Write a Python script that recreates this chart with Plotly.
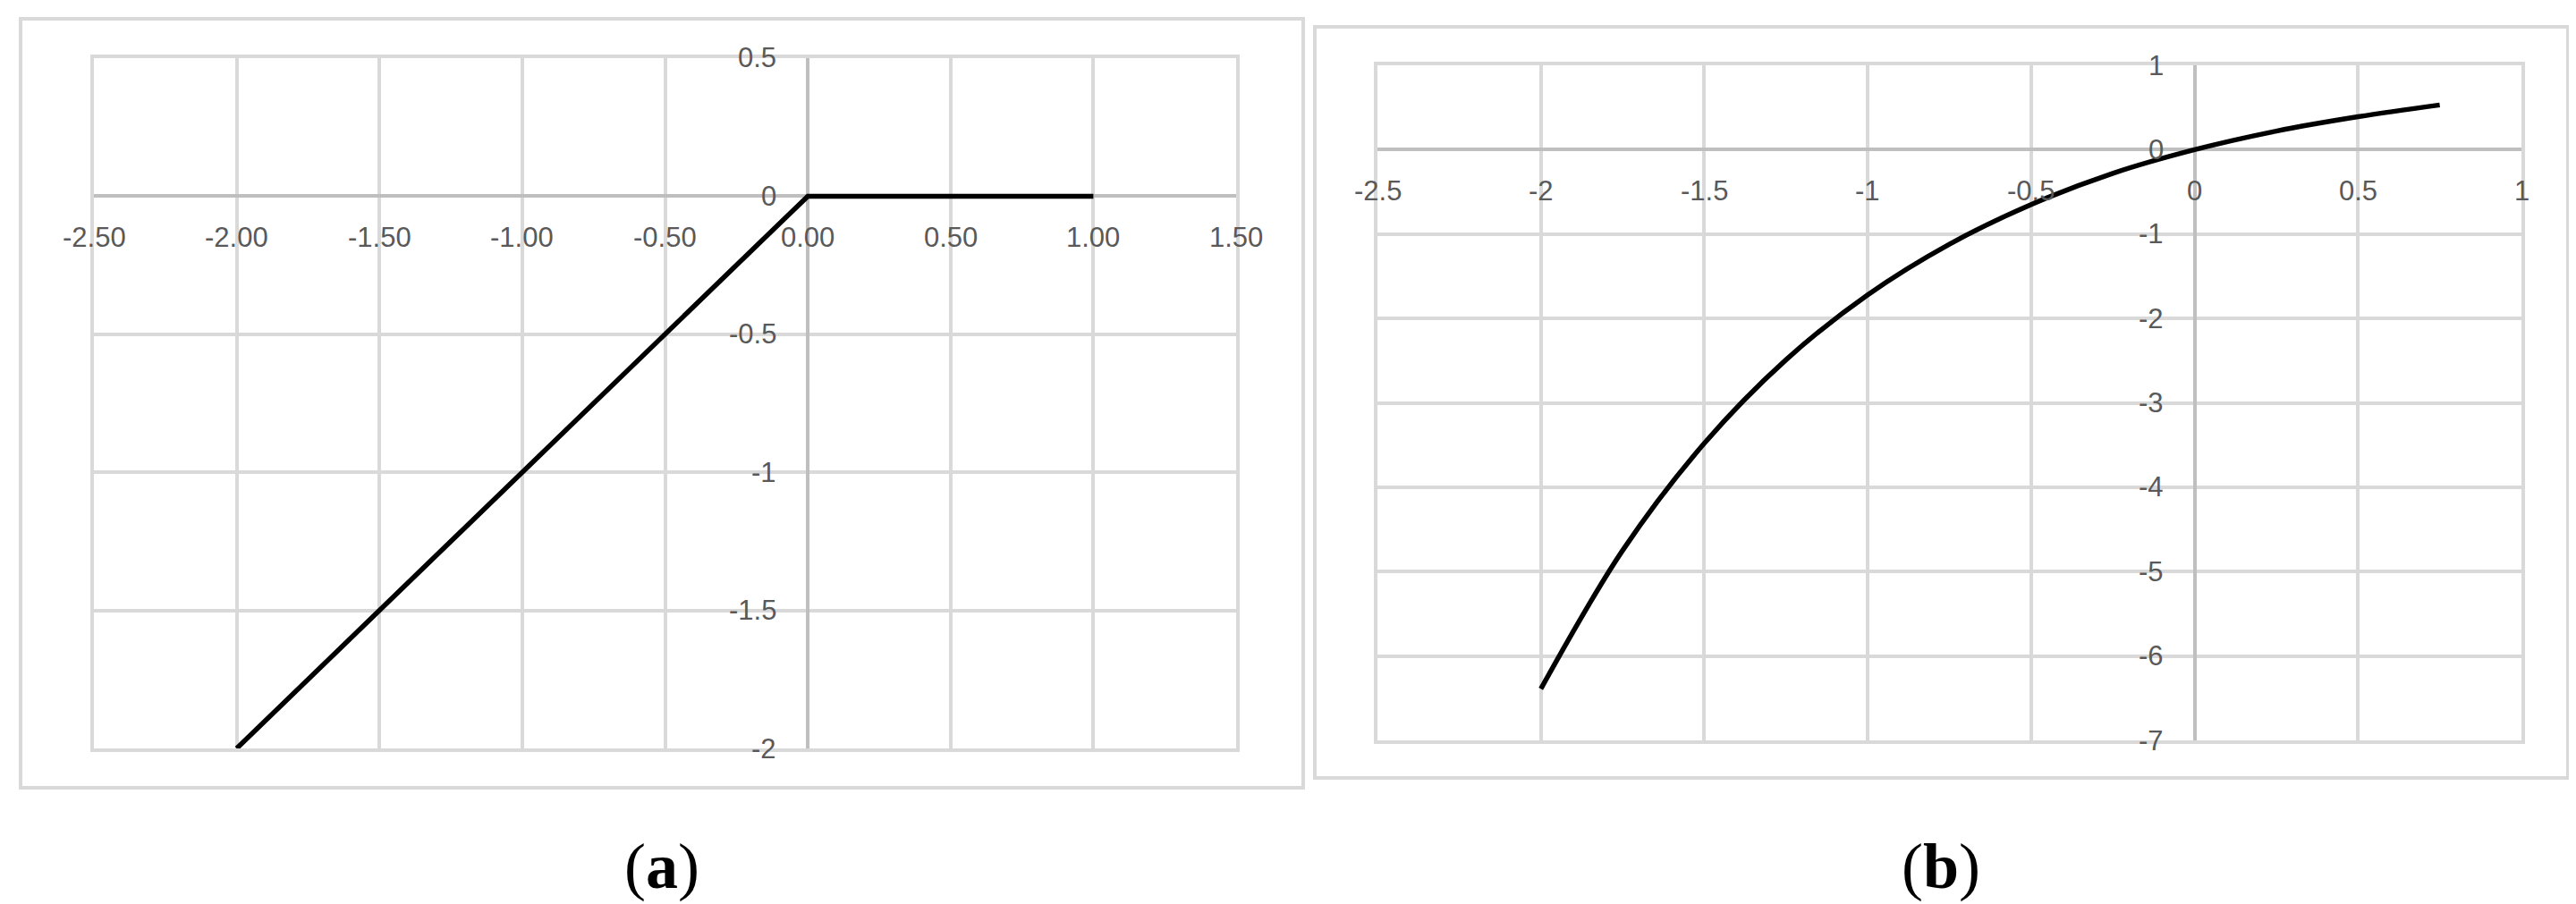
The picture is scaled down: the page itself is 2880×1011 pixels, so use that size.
import plotly.graph_objects as go

# panel (a): piecewise linear curve
a_x = [-2.0, 0.0, 1.0]
a_y = [-2.0, 0.0, 0.0]
a_xticks = [-2.5, -2.0, -1.5, -1.0, -0.5, 0.0, 0.5, 1.0, 1.5]
a_xlabels = ["-2.50", "-2.00", "-1.50", "-1.00", "-0.50", "0.00", "0.50", "1.00", "1.50"]
a_yticks = [0.5, 0.0, -0.5, -1.0, -1.5, -2.0]
a_ylabels = ["0.5", "0", "-0.5", "-1", "-1.5", "-2"]

# panel (b): smooth curve
b_x = [-2.0, -1.75, -1.5, -1.25, -1.0, -0.75, -0.5, -0.25, 0.0, 0.25, 0.5, 0.75]
b_y = [-6.39, -4.75, -3.48, -2.49, -1.72, -1.12, -0.65, -0.28, 0.0, 0.22, 0.39, 0.53]
b_xticks = [-2.5, -2.0, -1.5, -1.0, -0.5, 0.0, 0.5, 1.0]
b_xlabels = ["-2.5", "-2", "-1.5", "-1", "-0.5", "0", "0.5", "1"]
b_yticks = [1, 0, -1, -2, -3, -4, -5, -6, -7]
b_ylabels = ["1", "0", "-1", "-2", "-3", "-4", "-5", "-6", "-7"]

W, H = 2880, 1011
GRID = "#d9d9d9"
ZERO = "#bfbfbf"
tick_font = dict(family="Liberation Sans, Arial, sans-serif", size=31, color="#595959")
cap_font = dict(family="Liberation Serif, Times New Roman, serif", size=72, color="black")

fig = go.Figure()
fig.add_trace(go.Scatter(x=a_x, y=a_y, mode="lines", line=dict(color="black", width=5.5),
                         xaxis="x", yaxis="y", showlegend=False))
fig.add_trace(go.Scatter(x=b_x, y=b_y, mode="lines", line=dict(color="black", width=5.5, shape="spline"),
                         xaxis="x2", yaxis="y2", showlegend=False))


def axis(rng, ticks, domain, anchor):
    # grid + a frame in grid colour, since plotly skips gridlines at the range edges
    return dict(range=rng, tickvals=ticks, showticklabels=False, domain=domain, anchor=anchor,
                showgrid=True, gridcolor=GRID, gridwidth=4, zeroline=True, zerolinecolor=ZERO,
                zerolinewidth=4, showline=True, linecolor=GRID, linewidth=4, mirror=True,
                ticks="", fixedrange=True)


def px_x(p):
    return p / W


def px_y(p):
    return 1 - p / H


annotations = []


def tick_labels(xref, yref, xticks, xlabels, yticks, ylabels):
    for t, lab in zip(xticks, xlabels):
        annotations.append(dict(x=t, y=0, xref=xref, yref=yref, text=lab, showarrow=False,
                                xanchor="center", yanchor="middle", yshift=-46, font=tick_font))
    for t, lab in zip(yticks, ylabels):
        annotations.append(dict(x=0, y=t, xref=xref, yref=yref, text=lab, showarrow=False,
                                xanchor="right", yanchor="middle", xshift=-33, font=tick_font))


tick_labels("x", "y", a_xticks, a_xlabels, a_yticks, a_ylabels)
tick_labels("x2", "y2", b_xticks, b_xlabels, b_yticks, b_ylabels)

annotations.append(dict(x=px_x(732), y=px_y(961), xref="paper", yref="paper", text="(<b>a</b>)",
                        showarrow=False, xanchor="center", yanchor="middle", font=cap_font))
annotations.append(dict(x=px_x(2162), y=px_y(961), xref="paper", yref="paper", text="(<b>b</b>)",
                        showarrow=False, xanchor="center", yanchor="middle", font=cap_font))

# chart frames around each panel
shapes = [
    dict(type="rect", xref="paper", yref="paper", x0=px_x(15), x1=px_x(1449), y0=px_y(873), y1=px_y(13),
         line=dict(color=GRID, width=4), layer="below"),
    dict(type="rect", xref="paper", yref="paper", x0=px_x(1462), x1=px_x(2863), y0=px_y(862), y1=px_y(22),
         line=dict(color=GRID, width=4), layer="below"),
]

fig.update_layout(
    width=W, height=H,
    margin=dict(l=0, r=0, t=0, b=0),
    paper_bgcolor="white", plot_bgcolor="white",
    xaxis=axis([-2.5, 1.5], a_xticks, [px_x(97), px_x(1374)], "y"),
    yaxis=axis([-2.0, 0.5], a_yticks, [px_y(829), px_y(57)], "x"),
    xaxis2=axis([-2.5, 1.0], b_xticks, [px_x(1532), px_x(2811)], "y2"),
    yaxis2=axis([-7, 1], b_yticks, [px_y(820), px_y(65)], "x2"),
    annotations=annotations,
    shapes=shapes,
)

fig.write_html("out.html")
